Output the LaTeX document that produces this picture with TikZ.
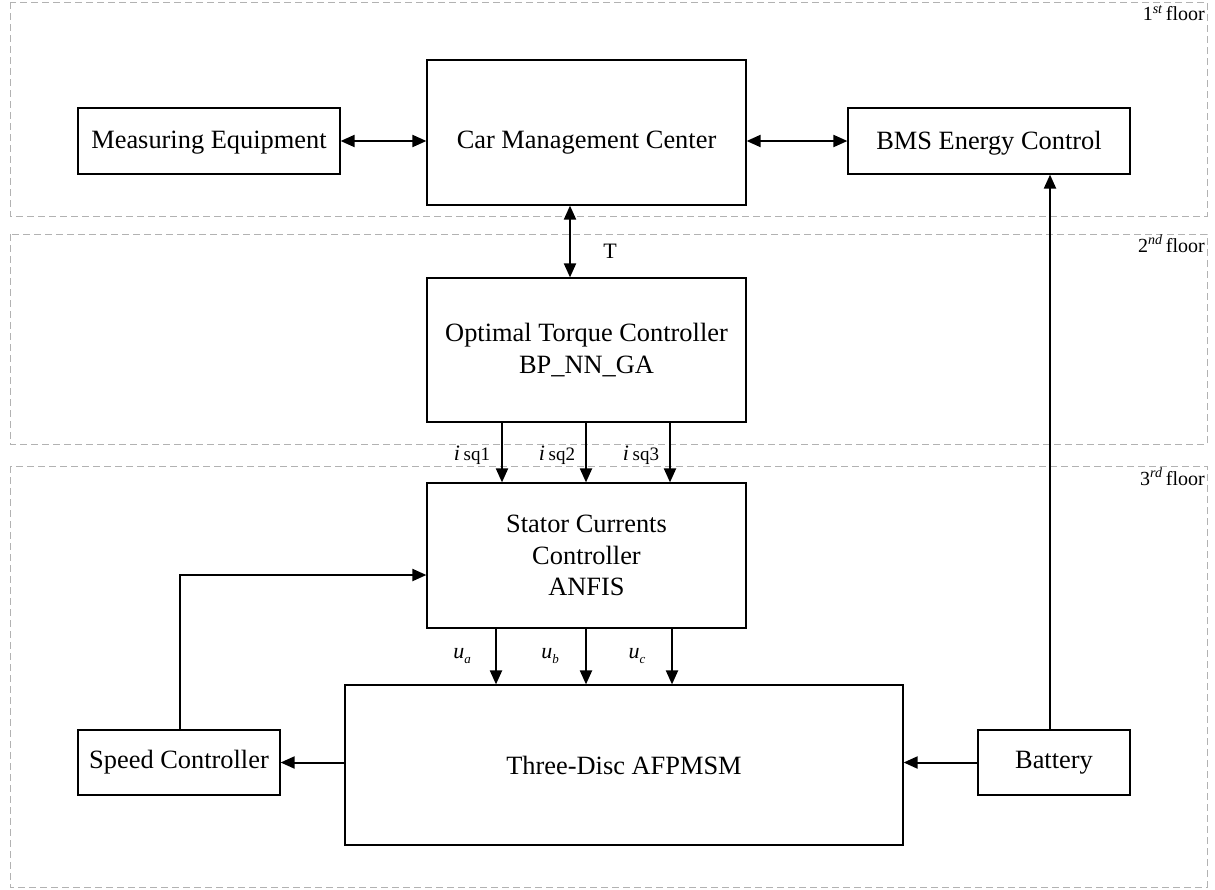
\documentclass[tikz,border=0pt]{standalone}
\usepackage{fontspec}
\setmainfont{Liberation Serif}
\usetikzlibrary{arrows.meta,calc}
\begin{document}
\begin{tikzpicture}[x=1pt,y=-1pt,
  box/.style={draw,line width=1.2pt,align=center,font=\fontsize{26.4}{31.5}\selectfont,inner sep=0pt},
  arr/.style={line width=2pt,-{Triangle[length=14pt,width=12pt]}},
  darr/.style={line width=2pt,{Triangle[length=14pt,width=12pt]}-{Triangle[length=14pt,width=12pt]}},
  floor/.style={draw=gray!60,line width=0.9pt,dash pattern=on 7pt off 4pt},
  flabel/.style={anchor=north east,inner sep=1pt,font=\fontsize{20}{22}\selectfont},
  lbl/.style={inner sep=1pt,font=\fontsize{22}{24}\selectfont}]
\useasboundingbox (0,0) rectangle (1215,889);
% floors
\draw[floor] (10,2) rectangle (1207,216);
\draw[floor] (10,234) rectangle (1207,444);
\draw[floor] (10,466) rectangle (1207,887);
\node[flabel] (f1) at (1206,4) {1\textsuperscript{\itshape st}\,floor};
\node[flabel] (f2) at (1206,234) {2\textsuperscript{\itshape nd}\,floor};
\node[flabel] (f3) at (1206,467) {3\textsuperscript{\itshape rd}\,floor};
% boxes
\node[box,minimum width=262pt,minimum height=66pt] (meas) at (209,141) {\raisebox{-2pt}[\height][\depth]{Measuring Equipment}};
\node[box,minimum width=319pt,minimum height=145pt] (cmc) at (586.5,132.5) {\raisebox{-10pt}[\height][\depth]{Car Management Center}};
\node[box,minimum width=282pt,minimum height=66pt] (bms) at (989,141) {\raisebox{-2pt}[\height][\depth]{BMS Energy Control}};
\node[box,minimum width=319pt,minimum height=144pt] (otc) at (586.5,350) {Optimal Torque Controller\\BP\_NN\_GA};
\node[box,minimum width=319pt,minimum height=145pt] (scc) at (586.5,555.5) {Stator Currents\\Controller\\ANFIS};
\node[box,minimum width=558pt,minimum height=160pt] (motor) at (624,765) {Three-Disc AFPMSM};
\node[box,minimum width=202pt,minimum height=65pt] (speed) at (179,762.5) {Speed Controller};
\node[box,minimum width=152pt,minimum height=65pt] (bat) at (1054,762.5) {Battery};
% helper coordinates
\coordinate (xa) at (502,0);
\coordinate (xb) at (586,0);
\coordinate (xc) at (670,0);
\coordinate (xd) at (496,0);
\coordinate (xe) at (586,0);
\coordinate (xf) at (672,0);
\coordinate (xs) at (180,0);
\coordinate (xm) at (570,0);
\coordinate (xbat) at (1050,0);
\coordinate (corner) at (180,575);
% connectors
\draw[darr] (meas.east) -- (cmc.west |- meas.east);
\draw[darr] (cmc.east |- bms.west) -- (bms.west);
\draw[darr] (cmc.south -| xm) -- (otc.north -| xm);
\node[lbl] (T) at (610,251) {T};
\draw[arr] (otc.south -| xa) -- (scc.north -| xa);
\draw[arr] (otc.south -| xb) -- (scc.north -| xb);
\draw[arr] (otc.south -| xc) -- (scc.north -| xc);
\node[lbl] (i1) at (472,455) {\textit{i}\,{\fontsize{19}{20}\selectfont sq1}};
\node[lbl] (i2) at (557,455) {\textit{i}\,{\fontsize{19}{20}\selectfont sq2}};
\node[lbl] (i3) at (641,455) {\textit{i}\,{\fontsize{19}{20}\selectfont sq3}};
\draw[arr] (scc.south -| xd) -- (motor.north -| xd);
\draw[arr] (scc.south -| xe) -- (motor.north -| xe);
\draw[arr] (scc.south -| xf) -- (motor.north -| xf);
\node[lbl] (ua) at (462,656) {\textit{u}\raisebox{-5pt}{\fontsize{13}{14}\selectfont\itshape a}};
\node[lbl] (ub) at (550,656) {\textit{u}\raisebox{-5pt}{\fontsize{13}{14}\selectfont\itshape b}};
\node[lbl] (uc) at (637,656) {\textit{u}\raisebox{-5pt}{\fontsize{13}{14}\selectfont\itshape c}};
\draw[arr] (motor.west |- speed.east) -- (speed.east);
\draw[arr] (bat.west) -- (motor.east |- bat.west);
\draw[arr] (bat.north -| xbat) -- (bms.south -| xbat);
\draw[arr] (speed.north -| xs) -- (corner) -- (scc.west |- corner);
\end{tikzpicture}
\end{document}
